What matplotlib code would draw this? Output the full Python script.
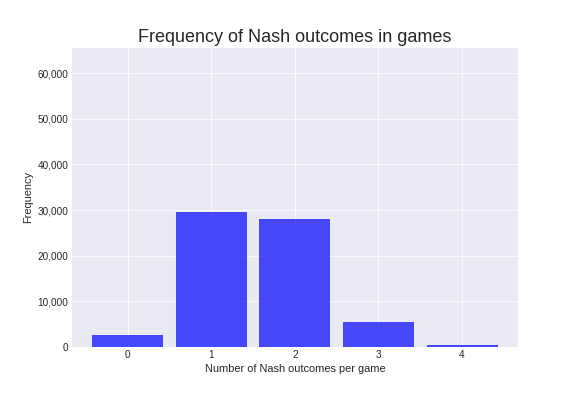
import numpy as np
import matplotlib
matplotlib.use('Agg')
import matplotlib.pyplot as plt
from matplotlib.ticker import FuncFormatter

# number of Nash outcomes per game -> frequency
outcomes = [0, 1, 2, 3, 4]
frequency = [2600, 29550, 28000, 5450, 420]
total_games = 65536

plt.style.use('seaborn-v0_8-darkgrid')
plt.rcParams['font.family'] = ['Liberation Sans', 'DejaVu Sans']

fig = plt.figure(figsize=(8, 5.5), dpi=72)
ax = fig.add_axes([0.125, 0.124, 0.774, 0.755])

ax.bar(outcomes, frequency, width=0.85, color='blue', alpha=0.7)
ax.set_ylim(0, total_games)
ax.set_xticks(outcomes)
ax.yaxis.set_major_formatter(FuncFormatter(lambda v, p: '{:,.0f}'.format(v)))

ax.set_title('Frequency of Nash outcomes in games', fontsize=18)
ax.set_xlabel('Number of Nash outcomes per game', fontsize=11)
ax.set_ylabel('Frequency', fontsize=11)

fig.savefig('out.png', dpi=72)
